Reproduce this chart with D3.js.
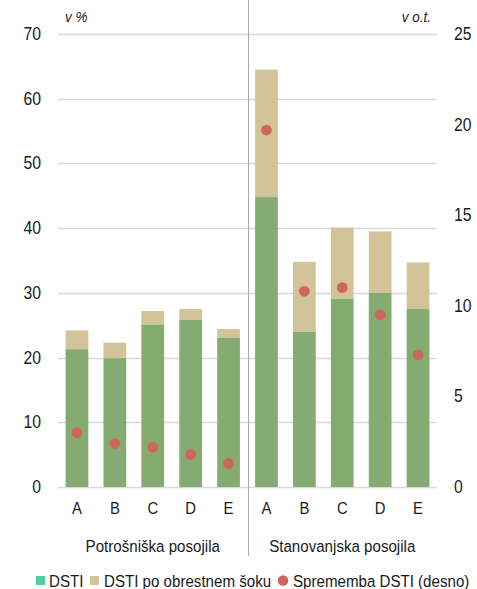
<!DOCTYPE html>
<html>
<head>
<meta charset="utf-8">
<script src="https://cdn.jsdelivr.net/npm/d3@7"></script>
<style>
  html, body { margin: 0; padding: 0; background: #fff; }
  svg { display: block; font-family: "Liberation Sans", Arial, sans-serif; }
</style>
</head>
<body>
<svg id="chart" width="477" height="589"></svg>
<script>
// ---- data ----
const categories = ["A", "B", "C", "D", "E", "A", "B", "C", "D", "E"];
const groups = ["Potrošniška posojila", "Stanovanjska posojila"];
const dsti = [21.3, 19.9, 25.1, 25.8, 23.1, 44.8, 24.0, 29.1, 30.0, 27.5];
const dstiShock = [24.2, 22.3, 27.2, 27.5, 24.4, 64.5, 34.8, 40.1, 39.5, 34.7];
const dstiChange = [3.0, 2.4, 2.2, 1.8, 1.3, 19.7, 10.8, 11.0, 9.5, 7.3];
const leftTicks = [0, 10, 20, 30, 40, 50, 60, 70];
const rightTicks = [0, 5, 10, 15, 20, 25];
const seriesNames = ["DSTI", "DSTI po obrestnem šoku", "Sprememba DSTI (desno)"];
const leftUnit = "v %";
const rightUnit = "v o.t.";

// ---- layout ----
const W = 477, H = 589;
const plot = { left: 58, right: 437, top: 34, bottom: 487 };
const col = { green: "#84ac72", tan: "#d3c399", red: "#cf665a", legendGreen: "#4fcf9f",
              grid: "#d9d9d9", sep: "#a9a9a9", text: "#1a1a1a" };
const SX = 0.9; // horizontal condensing of text

const svg = d3.select("#chart");
const idx = d3.range(categories.length);

const x = d3.scaleBand().domain(idx).range([plot.left, plot.right])
  .paddingInner(0.4).paddingOuter(0.2);
const yL = d3.scaleLinear().domain([0, 70]).range([plot.bottom, plot.top]);
const yR = d3.scaleLinear().domain([0, 25]).range([plot.bottom, plot.top]);

function txt(g, xx, yy, s, opts = {}) {
  return g.append("text")
    .attr("transform", `translate(${xx},${yy}) scale(${SX},1)`)
    .attr("text-anchor", opts.anchor || "start")
    .attr("font-size", opts.size || 17)
    .attr("font-style", opts.italic ? "italic" : "normal")
    .attr("fill", col.text)
    .text(s);
}

// gridlines
svg.append("g").selectAll("line").data(leftTicks).join("line")
  .attr("x1", plot.left).attr("x2", plot.right)
  .attr("y1", d => Math.round(yL(d)) + 0.5).attr("y2", d => Math.round(yL(d)) + 0.5)
  .attr("stroke", col.grid).attr("stroke-width", 1.3);

// left axis labels
const gl = svg.append("g");
leftTicks.forEach(t => txt(gl, 41, yL(t) + 6, d3.format("d")(t), { anchor: "end", size: 17.5 }));
// right axis labels
const gr = svg.append("g");
rightTicks.forEach(t => txt(gr, 454, yR(t) + 6, d3.format("d")(t), { anchor: "start", size: 17.5 }));

// unit labels
txt(svg, 65, 22, leftUnit, { italic: true, size: 15 });
txt(svg, 431, 22, rightUnit, { italic: true, size: 15, anchor: "end" });

// bars: shock (tan) behind, DSTI (green) on top
const gb = svg.append("g");
gb.selectAll("rect.shock").data(idx).join("rect").attr("class", "shock")
  .attr("x", i => x(i)).attr("width", x.bandwidth())
  .attr("y", i => yL(dstiShock[i])).attr("height", i => yL(dsti[i]) - yL(dstiShock[i]))
  .attr("fill", col.tan);
gb.selectAll("rect.dsti").data(idx).join("rect").attr("class", "dsti")
  .attr("x", i => x(i)).attr("width", x.bandwidth())
  .attr("y", i => yL(dsti[i])).attr("height", i => yL(0) - yL(dsti[i]))
  .attr("fill", col.green);

// dots (right axis)
svg.append("g").selectAll("circle").data(idx).join("circle")
  .attr("cx", i => x(i) + x.bandwidth() / 2)
  .attr("cy", i => yR(dstiChange[i]))
  .attr("r", 5.4).attr("fill", col.red);

// separator
const sepX = (x(4) + x.bandwidth() + x(5)) / 2 + 1;
svg.append("line").attr("x1", sepX).attr("x2", sepX).attr("y1", 0).attr("y2", 556)
  .attr("stroke", col.sep).attr("stroke-width", 1);

// category tick labels
const gx = svg.append("g");
idx.forEach(i => txt(gx, x(i) + x.bandwidth() / 2, 514, categories[i], { anchor: "middle", size: 16.5 }));

// group labels
const groupCenters = [
  (x(0) + x(4) + x.bandwidth()) / 2,
  (x(5) + x(9) + x.bandwidth()) / 2
];
groups.forEach((g, k) => txt(svg, groupCenters[k], 552, g, { anchor: "middle", size: 16.8 }));

// legend
const lg = svg.append("g");
let lx = 36;
const ly = 580.5;
lg.append("rect").attr("x", lx).attr("y", ly - 4.5).attr("width", 9).attr("height", 9).attr("fill", col.legendGreen);
let t1 = txt(lg, lx + 13, ly + 6, seriesNames[0], { size: 16.8 });
lx = 90;
lg.append("rect").attr("x", lx).attr("y", ly - 4.5).attr("width", 9).attr("height", 9).attr("fill", col.tan);
txt(lg, lx + 14, ly + 6, seriesNames[1], { size: 16.8 });
lx = 283;
lg.append("circle").attr("cx", lx).attr("cy", ly).attr("r", 5.3).attr("fill", col.red);
txt(lg, lx + 10, ly + 6, seriesNames[2], { size: 16.8 });
</script>
</body>
</html>
